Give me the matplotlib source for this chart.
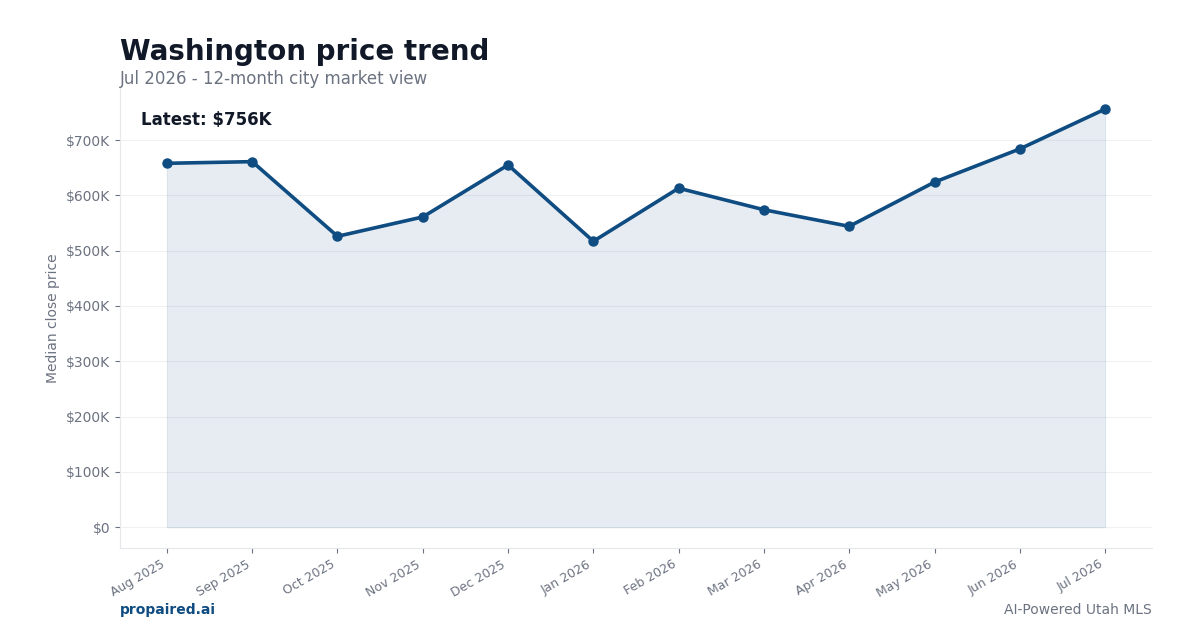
import numpy as np
import matplotlib.pyplot as plt
from matplotlib.ticker import FuncFormatter

# data
months = ["Aug 2025", "Sep 2025", "Oct 2025", "Nov 2025", "Dec 2025", "Jan 2026",
          "Feb 2026", "Mar 2026", "Apr 2026", "May 2026", "Jun 2026", "Jul 2026"]
median_price = [658000, 661000, 526000, 561000, 655000, 517000,
                613000, 574000, 544000, 624000, 684000, 756000]

navy = "#0f4c81"
grey = "#6b7280"

fig = plt.figure(figsize=(12, 6.3), dpi=100)
ax = fig.add_axes([0.1, 0.130, 0.86, 0.730])

x = np.arange(len(months))
ax.fill_between(x, median_price, 0, facecolor=navy, alpha=0.1, edgecolor=navy, linewidth=0.8)
ax.plot(x, median_price, color=navy, linewidth=2.6, marker="o", markersize=6.5)

ax.set_xticks(x)
ax.set_xticklabels(months, rotation=30, ha="right")
ax.yaxis.set_major_formatter(FuncFormatter(lambda v, p: "$0" if v == 0 else f"${v/1000:.0f}K"))
ax.set_yticks(np.arange(0, 800000, 100000))

ax.tick_params(colors=grey, labelsize=10)
ax.tick_params(axis="x", labelsize=9)
for s in ["top", "right"]:
    ax.spines[s].set_visible(False)
for s in ["left", "bottom"]:
    ax.spines[s].set_color("#e5e7eb")
ax.grid(axis="y", color="#f0f1f3", linewidth=0.8)
ax.set_axisbelow(True)
ax.set_ylabel("Median close price", color=grey, fontsize=10)

ax.text(0.02, 0.93, f"Latest: ${median_price[-1]/1000:.0f}K", transform=ax.transAxes,
        fontsize=12, fontweight="bold", color="#111827", va="center")

fig.text(0.1, 0.917, "Washington price trend", fontsize=20, fontweight="bold",
         color="#111827", va="center")
fig.text(0.1, 0.875, "Jul 2026 - 12-month city market view", fontsize=12,
         color=grey, va="center")
fig.text(0.1, 0.032, "propaired.ai", fontsize=10, fontweight="bold", color=navy, va="center")
fig.text(0.96, 0.032, "AI-Powered Utah MLS", fontsize=10, color=grey, va="center", ha="right")

fig.savefig("out.png", dpi=100)
